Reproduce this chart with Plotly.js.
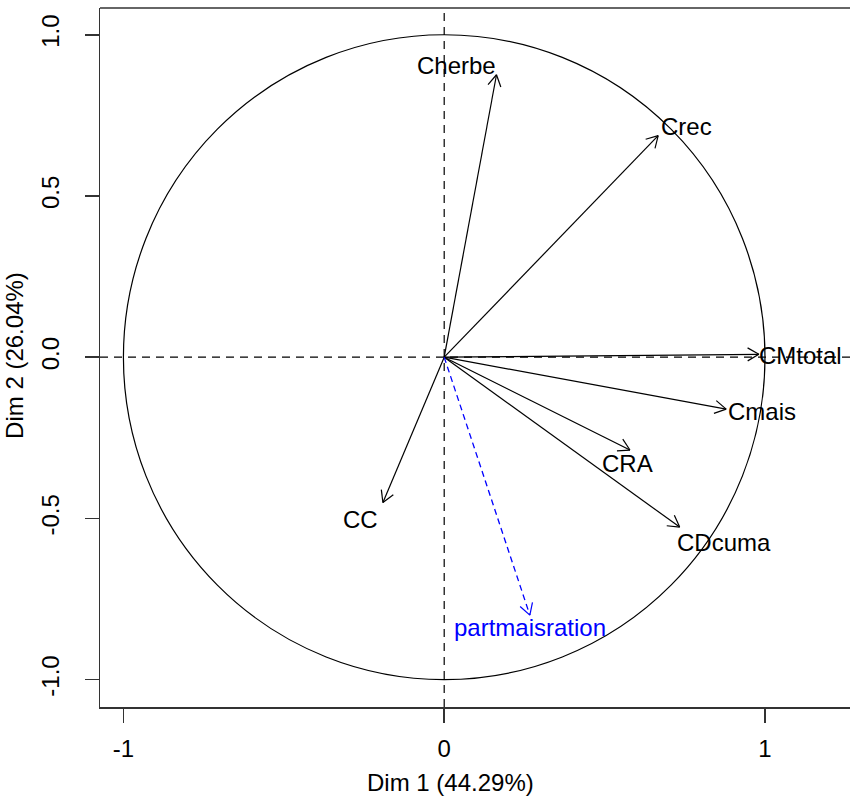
<!DOCTYPE html>
<html><head><meta charset="utf-8">
<script src="https://cdn.plot.ly/plotly-3.0.1.min.js"></script>
<style>html,body{margin:0;padding:0;background:#fff;overflow:hidden}#chart{width:850px;height:796px}</style>
</head><body><div id="chart"></div>
<script>
// ---- data ----
const varNames = ['Cherbe', 'Crec', 'CMtotal', 'Cmais', 'CRA', 'CDcuma', 'CC'];
const varDim1  = [0.163, 0.667, 0.981, 0.879, 0.579, 0.734, -0.191];
const varDim2  = [0.876, 0.687, 0.009, -0.161, -0.288, -0.527, -0.451];
const supNames = ['partmaisration'];
const supDim1  = [0.267];
const supDim2  = [-0.800];
const xTickVals = [-1, 0, 1];
const xTickText = ['-1', '0', '1'];
const yTickVals = [-1, -0.5, 0, 0.5, 1];
const yTickText = ['-1.0', '-0.5', '0.0', '0.5', '1.0'];
const xTitle = 'Dim 1 (44.29%)';
const yTitle = 'Dim 2 (26.04%)';

// ---- style ----
const labelShift = { // pixel offsets of labels from arrow tips (dx right, dy down)
  Cherbe: [-40, -9], Crec: [28, -9], CMtotal: [42, 1.5], Cmais: [36, 2],
  CRA: [-2, 13], CDcuma: [44.5, 15], CC: [-22, 17], partmaisration: [0.5, 12]
};
const W = 850, H = 796, M = {l: 100, r: 0, t: 8, b: 89, pad: 0};
const xRange = [-1.073, 1.265], yRange = [-1.085, 1.083];
const pxX = (W - M.l - M.r) / (xRange[1] - xRange[0]);
const pxY = (H - M.t - M.b) / (yRange[1] - yRange[0]);
const FONT = 'Liberation Sans, Arial, sans-serif';
const HEAD = 13, ANG = 30 * Math.PI / 180;

function shafts(xs, ys) {
  const x = [], y = [];
  xs.forEach((v, i) => { x.push(0, v, null); y.push(0, ys[i], null); });
  return {x, y};
}
function heads(xs, ys) {
  const x = [], y = [];
  xs.forEach((v, i) => {
    const ux = v * pxX, uy = ys[i] * pxY, n = Math.hypot(ux, uy);
    const bx = -ux / n, by = -uy / n;
    [ANG, -ANG].forEach(a => {
      const rx = bx * Math.cos(a) - by * Math.sin(a);
      const ry = bx * Math.sin(a) + by * Math.cos(a);
      x.push(v + rx * HEAD / pxX, v, null);
      y.push(ys[i] + ry * HEAD / pxY, ys[i], null);
    });
  });
  return {x, y};
}

const s1 = shafts(varDim1, varDim2), h1 = heads(varDim1, varDim2);
const s2 = shafts(supDim1, supDim2), h2 = heads(supDim1, supDim2);
const traces = [
  {x: s1.x, y: s1.y, mode: 'lines', line: {color: '#000', width: 1.2}, hoverinfo: 'skip'},
  {x: h1.x, y: h1.y, mode: 'lines', line: {color: '#000', width: 1.2}, hoverinfo: 'skip'},
  {x: s2.x, y: s2.y, mode: 'lines', line: {color: '#0000ff', width: 1.3, dash: '6px,4px'}, hoverinfo: 'skip'},
  {x: h2.x, y: h2.y, mode: 'lines', line: {color: '#0000ff', width: 1.2}, hoverinfo: 'skip'}
];

const annotations = [];
function addLabels(names, xs, ys, color) {
  names.forEach((nm, i) => {
    const s = labelShift[nm] || [0, 0];
    annotations.push({x: xs[i], y: ys[i], xref: 'x', yref: 'y', text: nm, showarrow: false,
      xanchor: 'center', yanchor: 'middle', xshift: s[0], yshift: -s[1],
      font: {family: FONT, size: 24, color: color}});
  });
}
addLabels(varNames, varDim1, varDim2, '#000');
addLabels(supNames, supDim1, supDim2, '#0000ff');
annotations.push({xref: 'paper', yref: 'paper', x: 0.467, y: -0.1087, text: xTitle, showarrow: false,
  xanchor: 'center', yanchor: 'middle', font: {family: FONT, size: 24, color: '#000'}});
annotations.push({xref: 'paper', yref: 'paper', x: -0.114, y: 0.503, text: yTitle, showarrow: false,
  textangle: -90, xanchor: 'center', yanchor: 'middle', font: {family: FONT, size: 24, color: '#000'}});

const layout = {
  width: W, height: H, margin: M, showlegend: false,
  paper_bgcolor: '#fff', plot_bgcolor: '#fff',
  xaxis: {range: xRange, tickvals: xTickVals, ticktext: xTickText, showgrid: false, zeroline: false,
    showline: true, linecolor: '#333', linewidth: 1.5, ticks: 'outside', ticklen: 14, tickwidth: 1.5,
    tickcolor: '#333', ticklabelstandoff: 6, tickfont: {family: FONT, size: 24, color: '#000'}, fixedrange: true},
  yaxis: {range: yRange, tickvals: yTickVals, ticktext: yTickText, showgrid: false, zeroline: false,
    showline: true, linecolor: '#333', linewidth: 1.5, ticks: 'outside', ticklen: 14, tickwidth: 1.5,
    tickcolor: '#333', tickangle: -90, ticklabelstandoff: 16, tickfont: {family: FONT, size: 24, color: '#000'}, fixedrange: true},
  shapes: [
    {type: 'line', xref: 'paper', yref: 'paper', x0: 0, x1: 1, y0: 1, y1: 1, line: {color: '#333', width: 1.5}},
    {type: 'circle', xref: 'x', yref: 'y', x0: -1, x1: 1, y0: -1, y1: 1, line: {color: '#000', width: 1.2}, layer: 'below'},
    {type: 'line', xref: 'paper', yref: 'y', x0: 0, x1: 1, y0: 0, y1: 0, line: {color: '#000', width: 1.2, dash: '8px,6px'}, layer: 'below'},
    {type: 'line', xref: 'x', yref: 'paper', x0: 0, x1: 0, y0: 0, y1: 1, line: {color: '#000', width: 1.2, dash: '8px,6px'}, layer: 'below'}
  ],
  annotations: annotations
};
Plotly.newPlot('chart', traces, layout, {staticPlot: true, displayModeBar: false});
</script></body></html>
